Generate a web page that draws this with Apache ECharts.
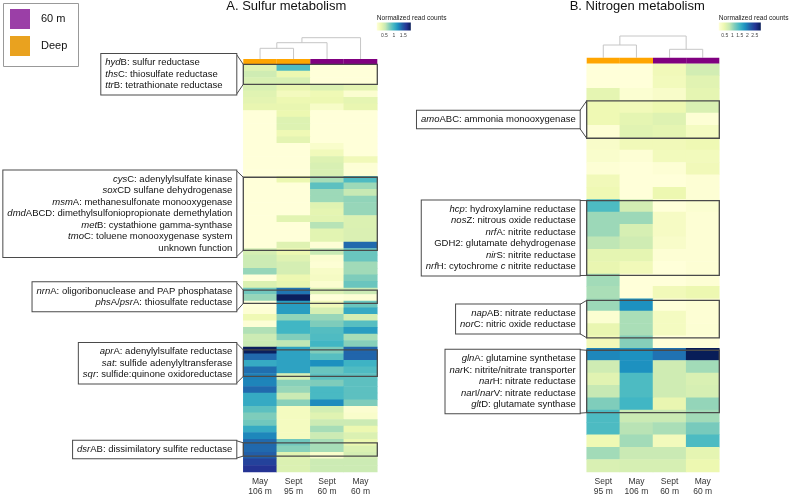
<!DOCTYPE html>
<html><head><meta charset="utf-8">
<script src="https://cdn.jsdelivr.net/npm/echarts@6/dist/echarts.min.js"></script>
<style>html,body{margin:0;padding:0;background:#fff}#c{width:790px;height:497px}</style>
</head><body><div id="c"></div>
<script>
// ---------------- DATA ----------------
const groupNames = ['60 m', 'Deep'];

const sulfurColumns = ['May\n106 m', 'Sept\n95 m', 'Sept\n60 m', 'May\n60 m'];
const sulfurGroups = ['Deep', 'Deep', '60 m', '60 m'];
const sulfurTicks = [0.5, 1, 1.5];
const sulfurRange = [0.1, 1.9];
// rows top -> bottom, columns as sulfurColumns
const sulfurValues = [
[0.40,0.95,0.10,0.10],[0.50,0.33,0.10,0.10],[0.45,0.45,0.10,0.10],[0.45,0.35,0.43,0.38],
[0.40,0.25,0.30,0.15],[0.38,0.32,0.32,0.37],[0.35,0.35,0.20,0.35],[0.10,0.33,0.10,0.10],
[0.10,0.42,0.10,0.10],[0.10,0.42,0.10,0.10],[0.10,0.30,0.10,0.10],[0.10,0.38,0.10,0.10],
[0.10,0.10,0.18,0.10],[0.10,0.10,0.27,0.10],[0.10,0.10,0.42,0.28],[0.10,0.10,0.45,0.12],
[0.10,0.10,0.45,0.12],[0.10,0.33,0.65,0.95],[0.10,0.10,0.90,0.68],[0.10,0.10,0.68,0.55],
[0.10,0.10,0.68,0.72],[0.10,0.10,0.40,0.70],[0.10,0.10,0.37,0.70],[0.10,0.39,0.39,0.43],
[0.10,0.10,0.60,0.43],[0.10,0.10,0.39,0.44],[0.10,0.10,0.39,0.44],[0.10,0.41,0.12,1.40],
[0.47,0.33,0.55,0.85],[0.52,0.41,0.15,0.85],[0.52,0.47,0.13,0.67],[0.70,0.47,0.20,0.67],
[0.10,0.32,0.22,0.78],[0.43,0.36,0.15,0.85],[0.83,1.35,0.44,0.52],[0.70,1.88,0.10,0.13],
[0.10,1.15,0.28,0.85],[0.12,1.15,0.46,1.07],[0.30,0.72,0.70,0.47],[0.12,1.00,0.78,0.92],
[0.62,1.00,0.93,1.15],[0.52,0.77,0.95,0.65],[0.53,0.57,1.00,0.75],[1.88,1.12,0.78,1.42],
[1.40,1.12,0.92,1.42],[1.07,1.12,1.23,1.02],[1.38,1.12,0.85,0.95],[1.30,0.47,0.90,0.90],
[1.28,0.75,0.78,0.90],[1.40,0.70,0.97,0.90],[1.07,0.53,0.97,0.90],[1.07,0.75,1.25,0.78],
[0.90,0.24,0.48,0.15],[0.78,0.24,0.40,0.18],[0.83,0.24,0.52,0.52],[1.07,0.24,0.65,0.33],
[1.27,0.24,0.52,0.43],[1.40,0.83,0.65,0.33],[1.40,0.75,0.65,0.43],[1.45,0.40,0.18,0.47],
[1.60,0.43,0.52,0.52],[1.68,0.43,0.52,0.52]
];
// dendrogram merges: [childA, childB, height]; children >= 4 refer to earlier merges
const sulfurLinkage = [[0, 1, 10.7], [4, 2, 16.3], [5, 3, 21.3]];
const sulfurBoxRows = [[0, 3], [17, 28], [34, 36], [43, 47], [57, 59]];
const sulfurBoxLabels = [
  ['*hyd*B: sulfur reductase', '*ths*C: thiosulfate reductase', '*ttr*B: tetrathionate reductase'],
  ['*cys*C: adenylylsulfate kinase', '*sox*CD sulfane dehydrogenase', '*msm*A: methanesulfonate monooxygenase',
   '*dmd*ABCD: dimethylsulfoniopropionate demethylation', '*met*B: cystathione gamma-synthase',
   '*tmo*C: toluene monooxygenase system', 'unknown function'],
  ['*nrn*A: oligoribonuclease and PAP phosphatase', '*phs*A/*psr*A: thiosulfate reductase'],
  ['*apr*A: adenylylsulfate reductase', '*sat*: sulfide adenylyltransferase', '*sqr*: sulfide:quinone oxidoreductase'],
  ['*dsr*AB: dissimilatory sulfite reductase']
];

const nitrogenColumns = ['Sept\n95 m', 'May\n106 m', 'Sept\n60 m', 'May\n60 m'];
const nitrogenGroups = ['Deep', 'Deep', '60 m', '60 m'];
const nitrogenTicks = [0.5, 1, 1.5, 2, 2.5];
const nitrogenRange = [0.1, 2.9];
const nitrogenValues = [
[0.10,0.10,0.38,0.70],[0.10,0.10,0.35,0.56],[0.52,0.17,0.24,0.52],[0.42,0.38,0.45,0.63],
[0.42,0.52,0.59,0.14],[0.14,0.56,0.52,0.31],[0.24,0.38,0.38,0.42],[0.21,0.14,0.35,0.35],
[0.14,0.10,0.14,0.38],[0.38,0.10,0.10,0.14],[0.42,0.10,0.45,0.14],[1.43,0.70,0.10,0.17],
[1.01,1.01,0.28,0.14],[1.01,0.66,0.28,0.14],[0.84,0.73,0.24,0.14],[0.52,0.52,0.14,0.14],
[0.49,0.38,0.10,0.14],[0.98,0.10,0.10,0.14],[0.94,0.10,0.38,0.45],[1.01,1.85,0.10,0.14],
[0.17,0.94,0.31,0.14],[0.49,0.94,0.31,0.15],[0.38,1.12,0.10,0.10],[1.92,1.85,2.06,2.90],
[0.73,1.85,0.73,0.98],[0.56,1.43,0.73,0.63],[0.80,1.43,0.73,0.66],[1.15,1.50,0.49,1.05],
[1.43,0.77,0.77,0.98],[1.43,0.87,0.94,1.19],[0.42,0.98,0.35,1.43],[0.98,0.77,0.77,0.52],
[0.63,0.66,0.66,0.45]
];
const nitrogenLinkage = [[0, 1, 12.7], [2, 3, 8.4], [4, 5, 21.7]];
const nitrogenBoxRows = [[3, 6], [11, 17], [19, 22], [23, 28]];
const nitrogenBoxLabels = [
  ['*amo*ABC: ammonia monooxygenase'],
  ['*hcp*: hydroxylamine reductase', '*nos*Z: nitrous oxide reductase', '*nrf*A: nitrite reductase',
   'GDH2: glutamate dehydrogenase', '*nir*S: nitrite reductase', '*nrf*H: cytochrome *c* nitrite reductase'],
  ['*nap*AB: nitrate reductase', '*nor*C: nitric oxide reductase'],
  ['*gln*A: glutamine synthetase', '*nar*K: nitrite/nitrate transporter', '*nar*H: nitrate reductase',
   '*nar*I/*nar*V: nitrate reductase', '*glt*D: glutamate synthase']
];

// ---------------- STYLE / LAYOUT ----------------
const FONT = 'Liberation Sans, Arial, sans-serif';
const YLGNBU = ['#ffffd9','#edf8b1','#c7e9b4','#7fcdbb','#41b6c4','#1d91c0','#225ea8','#253494','#081d58'];
const STRIP_COLOR = {'60 m': '#800080', 'Deep': '#ffa500'};
const LEGEND_COLOR = {'60 m': '#9b3fa7', 'Deep': '#e9a21f'};
const BOX_STROKE = '#4a4a4a';
const LH = 11.5, PADV = 3, PADH = 4, GAP = 7, LABEL_FS = 9.5;

const panels = [
  {title: 'A. Sulfur metabolism', cols: sulfurColumns, groups: sulfurGroups, values: sulfurValues,
   link: sulfurLinkage, boxRows: sulfurBoxRows, boxLabels: sulfurBoxLabels,
   boxAlign: ['left','right','right','right','right'], boxWidth: [127, null, null, null, null],
   ticks: sulfurTicks, range: sulfurRange,
   left: 243.3, width: 134, top: 64.4, height: 411.6, stripTop: 59, barW: 34},
  {title: 'B. Nitrogen metabolism', cols: nitrogenColumns, groups: nitrogenGroups, values: nitrogenValues,
   link: nitrogenLinkage, boxRows: nitrogenBoxRows, boxLabels: nitrogenBoxLabels,
   boxAlign: ['right','right','right','right'], boxWidth: [null, null, null, null],
   ticks: nitrogenTicks, range: nitrogenRange,
   left: 586.7, width: 132.6, top: 63.4, height: 411.6, stripTop: 57.7, barW: 42}
];

const rich = {};
['L', 'R'].forEach(s => {
  const al = s === 'L' ? 'left' : 'right';
  rich['i' + s] = {fontStyle: 'italic', fontSize: LABEL_FS, fontFamily: FONT, lineHeight: LH, align: al, color: '#111'};
  rich['n' + s] = {fontSize: LABEL_FS, fontFamily: FONT, lineHeight: LH, align: al, color: '#111'};
});
function toRich(line, s) {
  return line.split('*').map((p, k) => p ? '{' + (k % 2 ? 'i' : 'n') + s + '|' + p + '}' : '').join('');
}

function annotationRender(P) {
  return function (params, api) {
    const k = params.dataIndex;
    const r = P.boxRows[k];
    const tl = api.coord([0, r[0]]);
    const br = api.coord([4, r[1]]);
    const cy = (tl[1] + br[1]) / 2;
    const lines = P.boxLabels[k];
    const H = lines.length * LH + PADV * 2;
    const xr = tl[0] - GAP;
    const s = P.boxAlign[k] === 'left' ? 'L' : 'R';
    const st = {
      text: lines.map(l => toRich(l, s)).join('\n'),
      x: xr, y: cy, align: 'right', verticalAlign: 'middle',
      fontSize: LABEL_FS, fontFamily: FONT, lineHeight: LH, fill: '#111',
      rich: rich, backgroundColor: '#fff', borderColor: BOX_STROKE, borderWidth: 1,
      padding: [PADV, PADH, PADV, PADH]
    };
    if (P.boxWidth[k]) st.width = P.boxWidth[k];
    return {type: 'group', children: [
      {type: 'rect', shape: {x: tl[0], y: tl[1], width: br[0] - tl[0], height: br[1] - tl[1]},
       style: {fill: 'none', stroke: BOX_STROKE, lineWidth: 1.3}},
      {type: 'line', shape: {x1: xr, y1: cy - H / 2, x2: tl[0], y2: tl[1]}, style: {stroke: BOX_STROKE, lineWidth: 1}},
      {type: 'line', shape: {x1: xr, y1: cy + H / 2, x2: tl[0], y2: br[1]}, style: {stroke: BOX_STROKE, lineWidth: 1}},
      {type: 'text', style: st}
    ]};
  };
}

function dendroRender(P) {
  const n = P.cols.length;
  const xs = [], hs = [];
  for (let i = 0; i < n; i++) { xs.push(i); hs.push(0); }
  P.link.forEach(l => { xs.push((xs[l[0]] + xs[l[1]]) / 2); hs.push(l[2]); });
  return function (params, api) {
    const l = P.link[params.dataIndex];
    const a = l[0], b = l[1], h = l[2];
    const pts = [[xs[a], hs[a]], [xs[a], h], [xs[b], h], [xs[b], hs[b]]].map(p => api.coord(p));
    return {type: 'polyline', shape: {points: pts}, style: {stroke: '#c6c6c6', lineWidth: 1, fill: null}};
  };
}

const grid = [], xAxis = [], yAxis = [], series = [], visualMap = [], graphic = [];
const DH = 25; // dendrogram grid height (units = px)

panels.forEach((P, p) => {
  const g = p * 4;
  const nRows = P.values.length;
  grid.push({left: P.left, top: P.top, width: P.width, height: P.height});
  grid.push({left: P.left, top: P.top, width: P.width, height: P.height});
  grid.push({left: P.left, top: P.stripTop, width: P.width, height: P.top - P.stripTop});
  grid.push({left: P.left, top: P.stripTop - DH, width: P.width, height: DH});

  xAxis.push({type: 'category', gridIndex: g, data: P.cols, axisLine: {show: false}, axisTick: {show: false},
    splitLine: {show: false},
    axisLabel: {fontSize: 8.5, fontFamily: FONT, color: '#333', lineHeight: 10, margin: 5, interval: 0}});
  yAxis.push({type: 'category', gridIndex: g, data: P.values.map((_, i) => String(i)), inverse: true, show: false});
  xAxis.push({type: 'value', gridIndex: g + 1, min: 0, max: 4, show: false});
  yAxis.push({type: 'value', gridIndex: g + 1, min: 0, max: nRows, inverse: true, show: false});
  xAxis.push({type: 'category', gridIndex: g + 2, data: P.cols, show: false});
  yAxis.push({type: 'value', gridIndex: g + 2, min: 0, max: 1, show: false});
  xAxis.push({type: 'value', gridIndex: g + 3, min: -0.5, max: P.cols.length - 0.5, show: false});
  yAxis.push({type: 'value', gridIndex: g + 3, min: 0, max: DH, show: false});

  const heat = [];
  P.values.forEach((row, ri) => row.forEach((v, ci) => heat.push([ci, ri, v])));
  series.push({type: 'heatmap', xAxisIndex: g, yAxisIndex: g, data: heat, progressive: 0,
    emphasis: {disabled: true}, silent: true});
  series.push({type: 'custom', xAxisIndex: g + 1, yAxisIndex: g + 1, clip: false, z: 10, silent: true,
    data: P.boxRows.map(r => [0, r[0], r[1]]), renderItem: annotationRender(P)});
  series.push({type: 'bar', xAxisIndex: g + 2, yAxisIndex: g + 2, barWidth: '100%', barCategoryGap: '0%', silent: true,
    data: P.groups.map(gn => ({value: 1, itemStyle: {color: STRIP_COLOR[gn]}}))});
  series.push({type: 'custom', xAxisIndex: g + 3, yAxisIndex: g + 3, clip: false, silent: true,
    data: P.link.map(l => [l[0], l[2]]), renderItem: dendroRender(P)});

  visualMap.push({type: 'continuous', show: false, seriesIndex: g, dimension: 2,
    min: P.range[0], max: P.range[1], inRange: {color: YLGNBU}});

  // title
  graphic.push({type: 'text', x: P.left - 17, y: 6,
    style: {text: P.title, font: '13px ' + FONT, fill: '#111', align: 'left', verticalAlign: 'middle'}});
  // colour legend
  const bx = P.left + P.width - 0.5;
  graphic.push({type: 'text', x: bx, y: 18.3,
    style: {text: 'Normalized read counts', font: '6.6px ' + FONT, fill: '#222', align: 'left', verticalAlign: 'middle'}});
  graphic.push({type: 'rect', shape: {x: bx, y: 22.5, width: P.barW, height: 8},
    style: {fill: new echarts.graphic.LinearGradient(0, 0, 1, 0,
      YLGNBU.map((c, i) => ({offset: i / (YLGNBU.length - 1), color: c})))}});
  P.ticks.forEach(t => {
    const tx = bx + (t - P.range[0]) / (P.range[1] - P.range[0]) * P.barW;
    graphic.push({type: 'text', x: tx, y: 35.5,
      style: {text: String(t), font: '5px ' + FONT, fill: '#444', align: 'center', verticalAlign: 'middle'}});
  });
});

// group legend (top-left)
graphic.push({type: 'rect', shape: {x: 3.5, y: 3.5, width: 75, height: 63},
  style: {fill: '#fff', stroke: '#999', lineWidth: 1}});
groupNames.forEach((gn, i) => {
  graphic.push({type: 'rect', shape: {x: 10, y: 9 + i * 27, width: 20, height: 20},
    style: {fill: LEGEND_COLOR[gn]}});
  graphic.push({type: 'text', x: 41, y: 19 + i * 27,
    style: {text: gn, font: '11px ' + FONT, fill: '#111', align: 'left', verticalAlign: 'middle'}});
});

const chart = echarts.init(document.getElementById('c'), null, {renderer: 'canvas', width: 790, height: 497});
chart.setOption({
  animation: false,
  backgroundColor: '#fff',
  grid, xAxis, yAxis, series, visualMap, graphic
});
</script>
</body></html>
